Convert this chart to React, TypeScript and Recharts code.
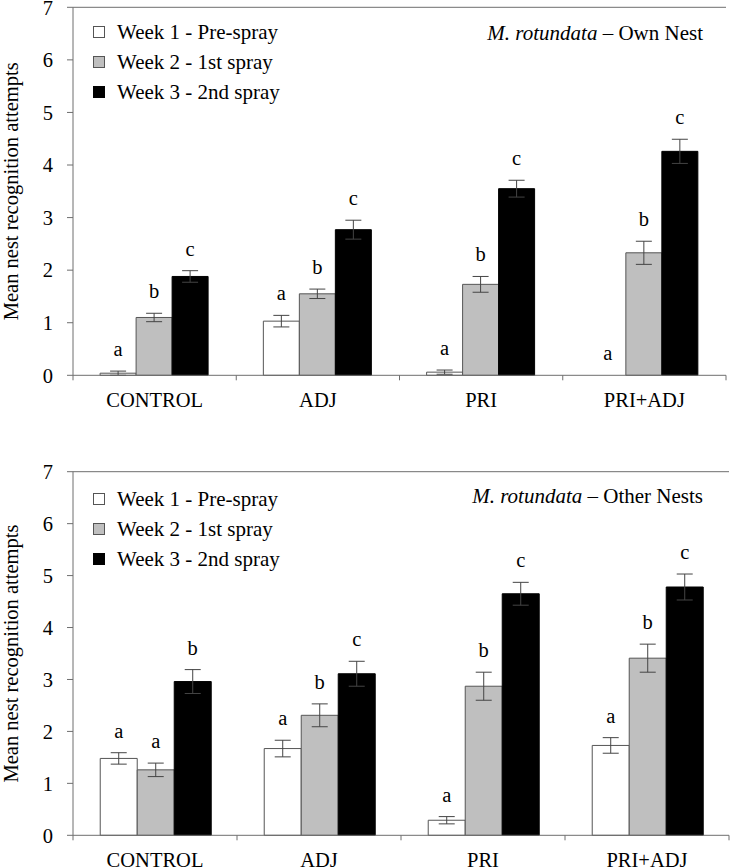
import { BarChart, Bar, XAxis, YAxis, ErrorBar, LabelList, ReferenceLine } from 'recharts';

const treatments = ['CONTROL', 'ADJ', 'PRI', 'PRI+ADJ'];
const weekNames = ['Week 1 - Pre-spray', 'Week 2 - 1st spray', 'Week 3 - 2nd spray'];
const yTicks = [0, 1, 2, 3, 4, 5, 6, 7];

// M. rotundata - own nest
const ownW1 = [0.04, 1.03, 0.06, 0];
const ownW1Err = [0.04, 0.11, 0.04, 0];
const ownW1Sig = ['a', 'a', 'a', 'a'];
const ownW2 = [1.1, 1.55, 1.73, 2.33];
const ownW2Err = [0.08, 0.09, 0.15, 0.22];
const ownW2Sig = ['b', 'b', 'b', 'b'];
const ownW3 = [1.88, 2.77, 3.55, 4.26];
const ownW3Err = [0.11, 0.18, 0.16, 0.23];
const ownW3Sig = ['c', 'c', 'c', 'c'];

// M. rotundata - other nests
const otherW1 = [1.48, 1.67, 0.29, 1.73];
const otherW1Err = [0.11, 0.16, 0.07, 0.15];
const otherW1Sig = ['a', 'a', 'a', 'a'];
const otherW2 = [1.26, 2.31, 2.87, 3.41];
const otherW2Err = [0.13, 0.22, 0.27, 0.27];
const otherW2Sig = ['a', 'b', 'b', 'b'];
const otherW3 = [2.96, 3.11, 4.65, 4.78];
const otherW3Err = [0.23, 0.24, 0.22, 0.25];
const otherW3Sig = ['b', 'c', 'c', 'c'];

const FONT = 'Liberation Serif';
const FS = 20.5;
const AXIS = '#6e6e6e';
const EDGE = '#555555';
const fills = ['#ffffff', '#bfbfbf', '#000000'];

const W = 731;
const PLOT_LEFT = 73;

type Panel = {
  title: string;
  top: number;
  height: number;
  plotTop: number;
  plotBottom: number;
  right: number;
  legendTop: number;
  titleTop: number;
  w: number[][];
  e: number[][];
  s: string[][];
};

const panels: Panel[] = [
  {
    title: 'Own Nest', top: 0, height: 420, plotTop: 7.3, plotBottom: 375.3, right: 5,
    legendTop: 17, titleTop: 21,
    w: [ownW1, ownW2, ownW3], e: [ownW1Err, ownW2Err, ownW3Err], s: [ownW1Sig, ownW2Sig, ownW3Sig],
  },
  {
    title: 'Other Nests', top: 430, height: 438, plotTop: 41.7, plotBottom: 405.3, right: 2,
    legendTop: 54, titleTop: 54,
    w: [otherW1, otherW2, otherW3], e: [otherW1Err, otherW2Err, otherW3Err], s: [otherW1Sig, otherW2Sig, otherW3Sig],
  },
];

function ChartPanel({ p }: { p: Panel }) {
  const data = treatments.map((name, i) => ({
    name,
    w1: p.w[0][i], e1: p.e[0][i],
    w2: p.w[1][i], e2: p.e[1][i],
    w3: p.w[2][i], e3: p.e[2][i],
  }));
  const bw = (W - p.right - PLOT_LEFT) / treatments.length;
  const xAxisH = 30;

  // letters for the whole group, hung off the week 3 bar (always > 0) so the
  // zero-height week 1 bar still gets its letter
  const groupLetters = (props: any) => {
    const { x, y, width, height, index } = props;
    const v3 = p.w[2][index];
    const unit = height / v3;
    const base = y + height;
    return (
      <g>
        {[0, 1, 2].map((k) => {
          const top = base - (p.w[k][index] + p.e[k][index]) * unit;
          return (
            <text key={k} x={x + width / 2 - (2 - k) * width} y={top - 15} textAnchor="middle"
              fontFamily={FONT} fontSize={FS} fill="#000">
              {p.s[k][index]}
            </text>
          );
        })}
      </g>
    );
  };

  const XTick = (props: any) => {
    const { x, y, payload, index } = props;
    return (
      <g>
        <line x1={x - bw / 2} x2={x - bw / 2} y1={y} y2={y + 5} stroke={AXIS} />
        {index === treatments.length - 1 && (
          <line x1={x + bw / 2} x2={x + bw / 2} y1={y} y2={y + 5} stroke={AXIS} />
        )}
        <text x={x} y={y + 32} textAnchor="middle" fontFamily={FONT} fontSize={FS} fill="#000">
          {payload.value}
        </text>
      </g>
    );
  };

  return (
    <div style={{ position: 'absolute', left: 0, top: p.top, width: W, height: p.height }}>
      <BarChart
        width={W}
        height={p.height}
        data={data}
        margin={{ top: p.plotTop, right: p.right, left: 0, bottom: p.height - p.plotBottom - xAxisH }}
        barCategoryGap="16.6%"
        barGap={0}
      >
        <XAxis dataKey="name" height={xAxisH} axisLine={{ stroke: AXIS }} tickLine={false}
          tickSize={0} tickMargin={0} tick={<XTick />} interval={0} />
        <YAxis domain={[0, 7]} ticks={yTicks} interval={0} width={PLOT_LEFT}
          axisLine={{ stroke: AXIS }} tickLine={{ stroke: AXIS }} tickSize={6} tickMargin={14}
          tick={{ fontFamily: FONT, fontSize: FS, fill: '#000' }}
          label={{
            value: 'Mean nest recognition attempts', angle: -90, position: 'insideLeft', offset: 11,
            style: { textAnchor: 'middle', fontFamily: FONT, fontSize: FS, fill: '#000' },
          }} />
        <YAxis yAxisId="frame" orientation="right" domain={[0, 7]} type="number" width={0}
          tick={false} tickLine={false} axisLine={{ stroke: AXIS }} />
        <ReferenceLine y={7} stroke={AXIS} />
        {[1, 2, 3].map((n, k) => (
          <Bar key={n} dataKey={`w${n}`} name={weekNames[k]} fill={fills[k]}
            stroke={k === 2 ? '#000' : EDGE} strokeWidth={1} isAnimationActive={false}>
            <ErrorBar dataKey={`e${n}`} width={8} stroke="#444" strokeWidth={1} direction="y" />
            {k === 2 && <LabelList dataKey="w3" content={groupLetters} />}
          </Bar>
        ))}
      </BarChart>
      <div style={{ position: 'absolute', left: 93, top: p.legendTop, fontFamily: FONT, fontSize: 21 }}>
        {weekNames.map((n, k) => (
          <div key={n} style={{ display: 'flex', alignItems: 'center', height: 30 }}>
            <span style={{
              display: 'inline-block', width: 10, height: 10, background: fills[k],
              border: `1px solid ${k === 2 ? '#000' : EDGE}`, marginRight: 12,
            }} />
            <span>{n}</span>
          </div>
        ))}
      </div>
      <div style={{
        position: 'absolute', right: 28, top: p.titleTop, fontFamily: FONT, fontSize: 21,
        lineHeight: '24px', whiteSpace: 'nowrap',
      }}>
        <i>M. rotundata</i> – {p.title}
      </div>
    </div>
  );
}

export default function App() {
  return (
    <div style={{ position: 'absolute', left: 0, top: 0, width: W, height: 868, background: '#fff' }}>
      {panels.map((p) => (
        <ChartPanel key={p.title} p={p} />
      ))}
    </div>
  );
}
